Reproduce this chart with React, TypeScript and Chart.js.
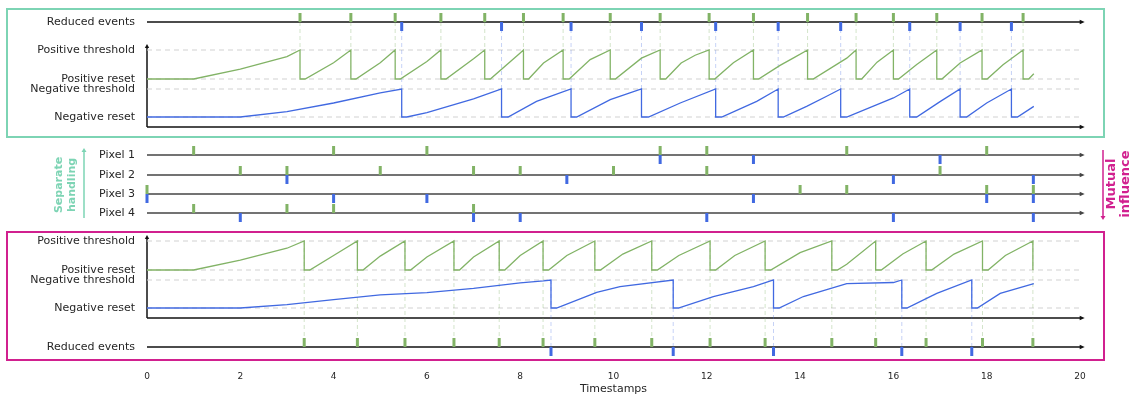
import React, { useEffect, useRef } from 'react';
import { Chart, registerables } from 'chart.js';

Chart.register(...registerables);

// ---------- data (timestamps / normalized potentials 0 = reset, 1 = threshold) ----------
const X_TICKS = [0, 2, 4, 6, 8, 10, 12, 14, 16, 18, 20];

// Separate handling (top panel) potentials
const TOP_POS_TRACE: [number, number][] = [
  [0, 0], [1, 0], [2, 0.34], [3, 0.77], [3.28, 1], [3.28, 0], [3.39, 0], [4.0, 0.56], [4.37, 1],
  [4.37, 0], [4.48, 0], [5.0, 0.56], [5.32, 1], [5.32, 0], [5.43, 0], [6.0, 0.6], [6.3, 1],
  [6.3, 0], [6.41, 0], [7.0, 0.7], [7.24, 1], [7.24, 0], [7.36, 0], [8.0, 0.9], [8.07, 1],
  [8.07, 0], [8.18, 0], [8.5, 0.55], [8.92, 1], [8.92, 0], [9.05, 0], [9.5, 0.67], [9.93, 1],
  [9.93, 0], [10.04, 0], [10.6, 0.72], [11.0, 1], [11.0, 0], [11.12, 0], [11.45, 0.55], [11.75, 0.82], [12.05, 1],
  [12.05, 0], [12.17, 0], [12.57, 0.56], [13.0, 1], [13.0, 0], [13.11, 0], [13.57, 0.47], [13.86, 0.73], [14.16, 1],
  [14.16, 0], [14.28, 0], [15.0, 0.72], [15.2, 1], [15.2, 0], [15.32, 0], [15.65, 0.58], [16.0, 1],
  [16.0, 0], [16.11, 0], [16.5, 0.5], [16.93, 1], [16.93, 0], [17.04, 0], [17.43, 0.55], [17.9, 1],
  [17.9, 0], [18.01, 0], [18.35, 0.49], [18.78, 1], [18.78, 0], [18.9, 0], [19.01, 0.18],
];
const TOP_NEG_TRACE: [number, number][] = [
  [0, 0], [2, 0], [3, 0.19], [4, 0.5], [5, 0.86], [5.46, 1], [5.46, 0], [5.57, 0], [6, 0.16], [7, 0.65], [7.6, 1],
  [7.6, 0], [7.74, 0], [8.35, 0.56], [9.09, 1], [9.09, 0], [9.21, 0], [9.93, 0.62], [10.6, 1],
  [10.6, 0], [10.75, 0], [11.43, 0.5], [12.19, 1], [12.19, 0], [12.32, 0], [13.07, 0.56], [13.53, 1],
  [13.53, 0], [13.64, 0], [14.14, 0.38], [14.57, 0.74], [14.87, 1], [14.87, 0], [15.0, 0], [16.0, 0.68], [16.35, 1],
  [16.35, 0], [16.5, 0], [17.0, 0.55], [17.43, 1], [17.43, 0], [17.57, 0], [18.0, 0.5], [18.53, 1],
  [18.53, 0], [18.66, 0], [19.01, 0.38],
];

// Mutual influence (bottom panel) potentials
const BOT_POS_TRACE: [number, number][] = [
  [0, 0], [1, 0], [2, 0.34], [3, 0.75], [3.37, 1], [3.37, 0], [3.49, 0], [4.0, 0.5], [4.51, 1],
  [4.51, 0], [4.63, 0], [5.0, 0.48], [5.53, 1], [5.53, 0], [5.65, 0], [6.0, 0.45], [6.58, 1],
  [6.58, 0], [6.7, 0], [7.0, 0.45], [7.55, 1], [7.55, 0], [7.67, 0], [8.0, 0.5], [8.49, 1],
  [8.49, 0], [8.61, 0], [9.0, 0.5], [9.6, 1], [9.6, 0], [9.72, 0], [10.2, 0.55], [10.82, 1],
  [10.82, 0], [10.94, 0], [11.4, 0.5], [12.07, 1], [12.07, 0], [12.19, 0], [12.6, 0.5], [13.25, 1],
  [13.25, 0], [13.37, 0], [14.0, 0.6], [14.68, 1], [14.68, 0], [14.8, 0], [15.0, 0.2], [15.62, 1],
  [15.62, 0], [15.74, 0], [16.2, 0.55], [16.7, 1], [16.7, 0], [16.82, 0], [17.3, 0.55], [17.91, 1],
  [17.91, 0], [18.03, 0], [18.4, 0.5], [18.99, 1], [18.99, 0],
];
const BOT_NEG_TRACE: [number, number][] = [
  [0, 0], [2, 0], [3, 0.12], [4, 0.3], [5, 0.47], [6, 0.55], [7, 0.7], [8, 0.9], [8.5, 0.97], [8.66, 1],
  [8.66, 0], [8.78, 0], [9.64, 0.56], [10.14, 0.76], [11.28, 1], [11.28, 0], [11.39, 0], [12.14, 0.41], [13.0, 0.76], [13.43, 1],
  [13.43, 0], [13.55, 0], [14.07, 0.41], [15.0, 0.87], [16.0, 0.91], [16.18, 1], [16.18, 0], [16.29, 0], [16.93, 0.52], [17.68, 1],
  [17.68, 0], [17.8, 0], [18.29, 0.52], [19.01, 0.87],
];

// Reduced events
const TOP_RED_POS = [3.28, 4.37, 5.32, 6.3, 7.24, 8.07, 8.92, 9.93, 11.0, 12.05, 13.0, 14.16, 15.2, 16.0, 16.93, 17.9, 18.78];
const TOP_RED_NEG = [5.46, 7.6, 9.09, 10.6, 12.19, 13.53, 14.87, 16.35, 17.43, 18.53];
const BOT_RED_POS = [3.37, 4.51, 5.53, 6.58, 7.55, 8.49, 9.6, 10.82, 12.07, 13.25, 14.68, 15.62, 16.7, 17.91, 18.99];
const BOT_RED_NEG = [8.66, 11.28, 13.43, 16.18, 17.68];

// Pixel input events
const PIXEL_NAMES = ['Pixel 1', 'Pixel 2', 'Pixel 3', 'Pixel 4'];
const PIXEL_POS = [
  [1, 4, 6, 11, 12, 15, 18],
  [2, 3, 5, 7, 8, 10, 12, 17],
  [0, 14, 15, 18, 19],
  [1, 3, 4, 7],
];
const PIXEL_NEG = [
  [11, 13, 17],
  [3, 9, 16, 19],
  [0, 4, 6, 13, 18, 19],
  [2, 7, 8, 12, 16, 19],
];

// ---------- layout (rows on the vertical layout scale) ----------
const ROW = {
  topRed: 22, topPosThr: 50, topPosReset: 79, topNegThr: 89, topNegReset: 117, topAxis: 127, topAxisTop: 44,
  pix: [155, 175, 194, 213],
  botPosThr: 241, botPosReset: 270, botNegThr: 280, botNegReset: 308, botAxis: 318, botAxisTop: 235, botRed: 347,
};
const Y_MAX = 362;
const TICK_LEN = 9;

const GREEN = '#82b366';
const BLUE = '#4169e1';
const TEAL = '#7dd4b4';
const MAGENTA = '#d1208f';
const FONT = 'DejaVu Sans';

const Y_LABELS: [number, string][] = [
  [ROW.topRed, 'Reduced events'],
  [ROW.topPosThr, 'Positive threshold'],
  [ROW.topPosReset, 'Positive reset'],
  [ROW.topNegThr, 'Negative threshold'],
  [ROW.topNegReset, 'Negative reset'],
  ...PIXEL_NAMES.map((n, i) => [ROW.pix[i], n] as [number, string]),
  [ROW.botPosThr, 'Positive threshold'],
  [ROW.botPosReset, 'Positive reset'],
  [ROW.botNegThr, 'Negative threshold'],
  [ROW.botNegReset, 'Negative reset'],
  [ROW.botRed, 'Reduced events'],
];
const LABEL_MAP = new Map<number, string>(Y_LABELS);

// ---------- dataset builders ----------
function trace(pairs: [number, number][], reset: number, thr: number, color: string) {
  return {
    data: pairs.map(([t, v]) => ({ x: t, y: reset - v * (reset - thr) })),
    borderColor: color,
    borderWidth: 1.3,
    pointRadius: 0,
    order: 5,
  };
}
function spikes(times: number[], base: number, dir: number, color: string) {
  return {
    data: times.flatMap((t) => [{ x: t, y: base }, { x: t, y: base + dir * TICK_LEN }, { x: t, y: null }]),
    borderColor: color,
    borderWidth: 3,
    pointRadius: 0,
    spanGaps: false,
    clip: false,
    order: 1,
  };
}
function vlines(times: number[], y1: number, y2: number, color: string) {
  return {
    data: times.flatMap((t) => [{ x: t, y: y1 }, { x: t, y: y2 }, { x: t, y: null }]),
    borderColor: color,
    borderWidth: 1,
    borderDash: [4, 3],
    pointRadius: 0,
    spanGaps: false,
    order: 8,
  };
}
function hline(y: number) {
  return {
    data: [{ x: 0, y }, { x: 20, y }],
    borderColor: '#d2d2d2',
    borderWidth: 1.2,
    borderDash: [5, 4],
    pointRadius: 0,
    order: 9,
  };
}

const decorPlugin = {
  id: 'decor',
  beforeDatasetsDraw(chart: any) {
    const { ctx } = chart;
    const xs = chart.scales.x;
    const ys = chart.scales.y;
    const x0 = xs.getPixelForValue(0);
    const xEnd = xs.getPixelForValue(20.1);
    const hArrow = (y: number, color: string) => {
      const py = ys.getPixelForValue(y);
      ctx.strokeStyle = color;
      ctx.fillStyle = color;
      ctx.lineWidth = 1.5;
      ctx.beginPath();
      ctx.moveTo(x0, py);
      ctx.lineTo(xEnd - 3, py);
      ctx.stroke();
      ctx.beginPath();
      ctx.moveTo(xEnd - 5, py - 2.2);
      ctx.lineTo(xEnd, py);
      ctx.lineTo(xEnd - 5, py + 2.2);
      ctx.closePath();
      ctx.fill();
    };
    const vArrow = (yTop: number, yBot: number) => {
      const pt = ys.getPixelForValue(yTop);
      const pb = ys.getPixelForValue(yBot);
      ctx.strokeStyle = '#111';
      ctx.fillStyle = '#111';
      ctx.lineWidth = 1.5;
      ctx.beginPath();
      ctx.moveTo(x0, pb);
      ctx.lineTo(x0, pt + 3);
      ctx.stroke();
      ctx.beginPath();
      ctx.moveTo(x0 - 2.2, pt + 4);
      ctx.lineTo(x0, pt);
      ctx.lineTo(x0 + 2.2, pt + 4);
      ctx.closePath();
      ctx.fill();
    };
    ctx.save();
    hArrow(ROW.topRed, '#111');
    vArrow(ROW.topAxisTop, ROW.topAxis);
    hArrow(ROW.topAxis, '#111');
    ROW.pix.forEach((r) => hArrow(r, '#444'));
    vArrow(ROW.botAxisTop, ROW.botAxis);
    hArrow(ROW.botAxis, '#111');
    hArrow(ROW.botRed, '#111');
    ctx.restore();
  },
  afterDraw(chart: any) {
    const { ctx } = chart;
    ctx.save();
    // panel frames
    ctx.lineWidth = 2;
    ctx.strokeStyle = TEAL;
    ctx.strokeRect(7, 9, 1097, 128);
    ctx.strokeStyle = MAGENTA;
    ctx.strokeRect(7, 232, 1097, 128);

    // side annotations
    const rotText = (lines: string[], xs: number[], cy: number, color: string, size: number) => {
      ctx.fillStyle = color;
      ctx.font = `bold ${size}px "${FONT}"`;
      ctx.textAlign = 'center';
      ctx.textBaseline = 'middle';
      lines.forEach((l, i) => {
        ctx.save();
        ctx.translate(xs[i], cy);
        ctx.rotate(-Math.PI / 2);
        ctx.fillText(l, 0, 0);
        ctx.restore();
      });
    };
    rotText(['Separate', 'handling'], [59, 72], 185, TEAL, 11);
    rotText(['Mutual', 'influence'], [1112, 1126], 184, MAGENTA, 13);

    // vertical arrows
    const arrow = (x: number, yFrom: number, yTo: number, color: string) => {
      ctx.strokeStyle = color;
      ctx.fillStyle = color;
      ctx.lineWidth = 1.5;
      const d = yTo > yFrom ? 1 : -1;
      ctx.beginPath();
      ctx.moveTo(x, yFrom);
      ctx.lineTo(x, yTo - d * 3);
      ctx.stroke();
      ctx.beginPath();
      ctx.moveTo(x - 2.5, yTo - d * 4);
      ctx.lineTo(x, yTo);
      ctx.lineTo(x + 2.5, yTo - d * 4);
      ctx.closePath();
      ctx.fill();
    };
    arrow(84, 218, 148, TEAL);
    arrow(1103, 150, 220, MAGENTA);
    ctx.restore();
  },
};

export default function App() {
  const ref = useRef<HTMLCanvasElement>(null);
  useEffect(() => {
    Chart.defaults.font.family = FONT;
    const datasets: any[] = [
      // reference levels
      hline(ROW.topPosThr), hline(ROW.topPosReset), hline(ROW.topNegThr), hline(ROW.topNegReset),
      hline(ROW.botPosThr), hline(ROW.botPosReset), hline(ROW.botNegThr), hline(ROW.botNegReset),
      // guide lines from reduced events
      vlines(TOP_RED_POS, ROW.topRed, ROW.topPosThr, 'rgba(130,179,102,0.35)'),
      vlines(TOP_RED_NEG, ROW.topRed, ROW.topNegThr, 'rgba(65,105,225,0.3)'),
      vlines(BOT_RED_POS, ROW.botPosThr, ROW.botRed, 'rgba(130,179,102,0.35)'),
      vlines(BOT_RED_NEG, ROW.botNegThr, ROW.botRed, 'rgba(65,105,225,0.3)'),
      // potentials
      trace(TOP_POS_TRACE, ROW.topPosReset, ROW.topPosThr, GREEN),
      trace(TOP_NEG_TRACE, ROW.topNegReset, ROW.topNegThr, BLUE),
      trace(BOT_POS_TRACE, ROW.botPosReset, ROW.botPosThr, GREEN),
      trace(BOT_NEG_TRACE, ROW.botNegReset, ROW.botNegThr, BLUE),
      // events
      spikes(TOP_RED_POS, ROW.topRed, -1, GREEN),
      spikes(TOP_RED_NEG, ROW.topRed, 1, BLUE),
      spikes(BOT_RED_POS, ROW.botRed, -1, GREEN),
      spikes(BOT_RED_NEG, ROW.botRed, 1, BLUE),
      ...PIXEL_POS.map((ts, i) => spikes(ts, ROW.pix[i], -1, GREEN)),
      ...PIXEL_NEG.map((ts, i) => spikes(ts, ROW.pix[i], 1, BLUE)),
    ];
    const chart = new Chart(ref.current as HTMLCanvasElement, {
      type: 'line',
      data: { datasets },
      options: {
        animation: false,
        responsive: false,
        events: [],
        layout: { padding: { left: 0, right: 53, top: 0, bottom: 0 } },
        plugins: { legend: { display: false }, tooltip: { enabled: false } },
        scales: {
          x: {
            type: 'linear',
            min: 0,
            max: 20,
            afterBuildTicks: (s: any) => { s.ticks = X_TICKS.map((v) => ({ value: v })); },
            afterFit: (s: any) => { s.height = 34; s.paddingLeft = 0; s.paddingRight = 0; },
            grid: { display: false, drawTicks: false },
            border: { display: false },
            ticks: { padding: 9, color: '#262626', font: { size: 9 }, maxRotation: 0, autoSkip: false },
            title: { display: true, text: 'Timestamps', color: '#262626', font: { size: 11 }, padding: { top: 0, bottom: 0 } },
          },
          y: {
            type: 'linear',
            reverse: true,
            min: 0,
            max: Y_MAX,
            afterBuildTicks: (s: any) => { s.ticks = Y_LABELS.map(([v]) => ({ value: v })); },
            afterFit: (s: any) => { s.width = 147; s.paddingTop = 0; s.paddingBottom = 0; },
            grid: { display: false, drawTicks: false },
            border: { display: false },
            ticks: {
              autoSkip: false,
              padding: 12,
              color: '#262626',
              font: { size: 11 },
              callback: (v: any) => LABEL_MAP.get(Number(v)) ?? '',
            },
          },
        },
      },
      plugins: [decorPlugin],
    } as any);
    return () => chart.destroy();
  }, []);
  return (
    <div style={{ position: 'absolute', left: 0, top: 0, width: 1133, height: 396, background: '#fff' }}>
      <canvas ref={ref} width={1133} height={396} style={{ display: 'block' }} />
    </div>
  );
}
